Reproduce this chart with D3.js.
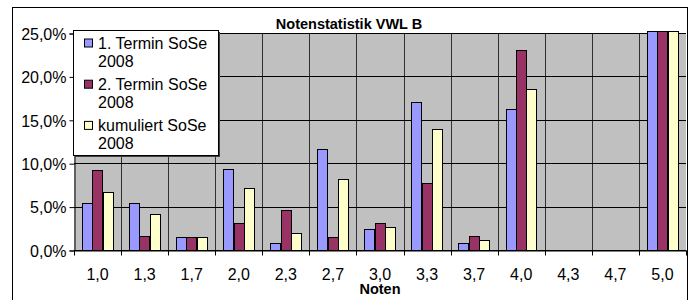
<!DOCTYPE html>
<html>
<head>
<meta charset="utf-8">
<script src="https://cdn.jsdelivr.net/npm/d3@7"></script>
<style>
  body { margin: 0; background: #fff; }
  text { font-family: "Liberation Sans", Arial, sans-serif; fill: #000; }
</style>
</head>
<body>
<svg id="chart" width="695" height="300"></svg>
<script>
"use strict";
// Notenstatistik VWL B - values in percent
var categories = ["1,0", "1,3", "1,7", "2,0", "2,3", "2,7", "3,0", "3,3", "3,7", "4,0", "4,3", "4,7", "5,0"];
var seriesNames = ["1. Termin SoSe 2008", "2. Termin SoSe 2008", "kumuliert SoSe 2008"];
var termin1 = [5.4, 5.4, 1.5, 9.3, 0.8, 11.6, 2.4, 17.0, 0.8, 16.2, 0, 0, 28.0];
var termin2 = [9.2, 1.6, 1.5, 3.1, 4.6, 1.5, 3.1, 7.7, 1.6, 23.0, 0, 0, 34.0];
var kumuliert = [6.7, 4.1, 1.5, 7.2, 2.0, 8.2, 2.6, 13.9, 1.1, 18.5, 0, 0, 30.0];
var yTicks = [0, 5, 10, 15, 20, 25];
var colors = ["#9999FF", "#993366", "#FFFFCC"];

(function draw() {
  var svg = d3.select('#chart');
  var plot = { left: 74, right: 686, top: 33, bottom: 250 };
  var seriesValues = [termin1, termin2, kumuliert];

  // outer chart frame
  svg.append('rect').attr('x', 12.5).attr('y', 7.5).attr('width', 675).attr('height', 310)
    .attr('fill', '#fff').attr('stroke', '#000');

  var x = d3.scaleBand().domain(categories).range([plot.left, plot.right])
    .paddingInner(1 / 3).paddingOuter(1 / 6);
  var xs = d3.scaleBand().domain(d3.range(3)).range([0, x.bandwidth()]);
  var y = d3.scaleLinear().domain([0, 25]).range([plot.bottom, plot.top]);
  var step = x.step();

  svg.append('rect').attr('x', plot.left).attr('y', plot.top)
    .attr('width', plot.right - plot.left).attr('height', plot.bottom - plot.top)
    .attr('fill', '#C0C0C0');

  // vertical category separators
  svg.append('g').selectAll('line').data(categories.slice(1)).enter().append('line')
    .attr('x1', function(d) { return Math.round(x(d) - step / 6) + 0.5; })
    .attr('x2', function(d) { return Math.round(x(d) - step / 6) + 0.5; })
    .attr('y1', plot.top).attr('y2', plot.bottom)
    .attr('stroke', '#303030');

  // horizontal gridlines
  svg.append('g').selectAll('line').data(yTicks).enter().append('line')
    .attr('x1', plot.left).attr('x2', plot.right)
    .attr('y1', function(d) { return Math.round(y(d)) + 0.5; })
    .attr('y2', function(d) { return Math.round(y(d)) + 0.5; })
    .attr('stroke', '#000');

  // bars (values above the axis max are cut just above the plot top, like Excel)
  var top = y(25) - 2;
  seriesValues.forEach(function(vals, s) {
    var pts = vals.map(function(v, i) { return { cat: categories[i], v: v }; })
      .filter(function(d) { return d.v > 0; });
    svg.append('g').selectAll('rect').data(pts).enter().append('rect')
      .attr('x', function(d) { return Math.round(x(d.cat) + xs(s)) + 0.5; })
      .attr('y', function(d) { return Math.round(Math.max(y(d.v), top)) + 0.5; })
      .attr('width', Math.round(xs.bandwidth()))
      .attr('height', function(d) { return Math.round(plot.bottom - Math.max(y(d.v), top)); })
      .attr('fill', colors[s]).attr('stroke', '#000');
  });

  // y axis
  var yAxis = d3.axisLeft(y).tickValues(yTicks).tickSize(5)
    .tickFormat(function(d) { return d.toFixed(1).replace('.', ',') + '%'; });
  var gy = svg.append('g').attr('transform', 'translate(' + (plot.left + 0.5) + ',0.5)').call(yAxis);
  gy.selectAll('text').style('font-size', '16px').attr('x', -8).attr('dy', '0.36em');
  gy.select('.domain').attr('stroke', '#000');

  // x axis
  var xAxis = d3.axisBottom(x).tickSize(0).tickPadding(0);
  var gx = svg.append('g').attr('transform', 'translate(0,' + (plot.bottom + 0.5) + ')').call(xAxis);
  gx.selectAll('text').style('font-size', '16px').attr('y', 29).attr('dy', 0);
  gx.select('.domain').attr('stroke', '#000');
  gx.selectAll('.sep').data(d3.range(categories.length + 1)).enter().append('line')
    .attr('x1', function(i) { return Math.round(plot.left + i * step) + 0.5; })
    .attr('x2', function(i) { return Math.round(plot.left + i * step) + 0.5; })
    .attr('y1', 0).attr('y2', 5).attr('stroke', '#000');

  // titles
  svg.append('text').attr('x', 349).attr('y', 29).attr('text-anchor', 'middle')
    .style('font-size', '14.5px').style('font-weight', 'bold').text('Notenstatistik VWL B');
  svg.append('text').attr('x', (plot.left + plot.right) / 2).attr('y', 294).attr('text-anchor', 'middle')
    .style('font-size', '14.5px').style('font-weight', 'bold').text('Noten');

  // legend
  var lg = svg.append('g').attr('transform', 'translate(73.5,30.5)');
  lg.append('rect').attr('x', 1.5).attr('y', 1.5).attr('width', 145).attr('height', 125).attr('fill', '#404040');
  lg.append('rect').attr('width', 145).attr('height', 125).attr('fill', '#fff').attr('stroke', '#000');
  seriesNames.forEach(function(name, i) {
    var gy0 = 18.5 + i * 41.2;
    lg.append('rect').attr('x', 11).attr('y', gy0 - 10).attr('width', 8).attr('height', 8)
      .attr('fill', colors[i]).attr('stroke', '#000');
    var parts = [name.slice(0, name.lastIndexOf(' ')), name.slice(name.lastIndexOf(' ') + 1)];
    parts.forEach(function(p, j) {
      lg.append('text').attr('x', 24.5).attr('y', gy0 + j * 17.5).style('font-size', '16px').text(p);
    });
  });
})();
</script>
</body>
</html>
